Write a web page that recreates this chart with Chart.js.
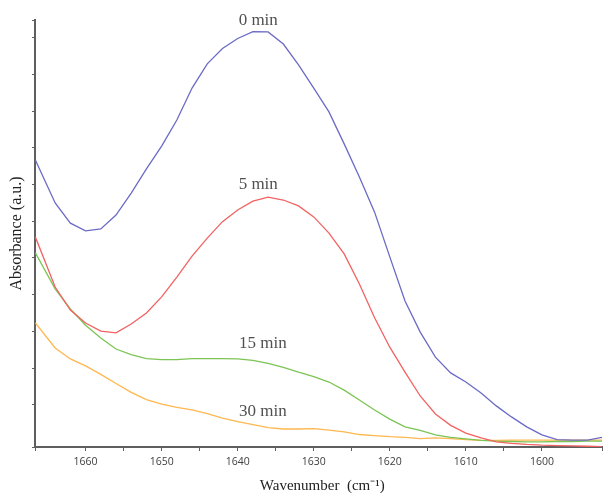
<!DOCTYPE html>
<html>
<head>
<meta charset="utf-8">
<script src="https://cdn.jsdelivr.net/npm/chart.js@4/dist/chart.umd.min.js"></script>
<style>
html,body{margin:0;padding:0;background:#fff;}
#wrap{width:607px;height:493px;position:relative;}
</style>
</head>
<body>
<div id="wrap"><canvas id="c" width="607" height="493"></canvas></div>
<script>
// Wavenumbers (cm^-1)
const wavenumbers = [1666.6,1664,1662,1660,1658,1656,1654,1652,1650,1648,1646,1644,1642,1640,1638,1636,1634,1632,1630,1628,1626,1624,1622,1620,1618,1616,1614,1612,1610,1608,1606,1604,1602,1600,1598,1596,1594,1592.1];
// Absorbance (a.u.) per series
const abs0min  = [0.767,0.650,0.595,0.574,0.579,0.617,0.677,0.743,0.805,0.876,0.963,1.029,1.071,1.098,1.117,1.116,1.083,1.026,0.963,0.898,0.811,0.721,0.625,0.503,0.383,0.298,0.230,0.187,0.162,0.132,0.097,0.067,0.040,0.018,0.005,0.004,0.004,0.011];
const abs5min  = [0.557,0.421,0.358,0.323,0.301,0.296,0.320,0.350,0.394,0.448,0.505,0.554,0.599,0.631,0.655,0.666,0.658,0.642,0.612,0.568,0.511,0.429,0.337,0.257,0.189,0.124,0.075,0.044,0.023,0.010,-0.001,-0.005,-0.008,-0.010,-0.011,-0.012,-0.013,-0.014];
const abs15min = [0.514,0.416,0.361,0.317,0.282,0.252,0.237,0.226,0.223,0.223,0.226,0.226,0.226,0.225,0.221,0.213,0.202,0.189,0.177,0.162,0.140,0.113,0.086,0.061,0.040,0.030,0.018,0.011,0.007,0.003,0.001,0.000,-0.001,-0.001,0.000,0.000,0.001,0.001];
const abs30min = [0.323,0.255,0.225,0.206,0.183,0.158,0.134,0.114,0.102,0.093,0.086,0.076,0.064,0.054,0.046,0.038,0.034,0.034,0.035,0.031,0.026,0.019,0.016,0.013,0.011,0.008,0.010,0.008,0.005,0.003,0.003,0.004,0.004,0.004,0.004,0.004,0.004,0.004];
const seriesNames = ["0 min","5 min","15 min","30 min"];
// Curve label anchors in data units (wavenumber, absorbance)
const labelWn  = [1637.3,1637.3,1636.7,1636.7];
const labelAbs = [1.146,0.699,0.268,0.083];

const colors = ["#6b6bc6","#f26262","#7cc454","#ffb74f"];
const allSeries = [abs0min,abs5min,abs15min,abs30min];

const datasets = allSeries.map((arr,i)=>({
  label: seriesNames[i],
  data: wavenumbers.map((w,j)=>({x:w,y:arr[j]})),
  borderColor: colors[i],
  borderWidth: 1.3,
  pointRadius: 0,
  tension: 0,
  fill: false
}));

const labelPlugin = {
  id:'curveLabels',
  afterDraw(chart){
    const ctx = chart.ctx, xs = chart.scales.x, ys = chart.scales.y;
    ctx.save();
    ctx.font = '17px "Liberation Serif", "Times New Roman", serif';
    ctx.fillStyle = '#505050';
    ctx.textAlign = 'center';
    ctx.textBaseline = 'middle';
    seriesNames.forEach((n,i)=>{
      ctx.fillText(n, xs.getPixelForValue(labelWn[i]), ys.getPixelForValue(labelAbs[i]));
    });
    ctx.restore();
  }
};

new Chart(document.getElementById('c'), {
  type:'line',
  data:{datasets},
  options:{
    responsive:false,
    animation:false,
    layout:{padding:{top:20,right:0,left:0,bottom:0}},
    plugins:{legend:{display:false},tooltip:{enabled:false}},
    scales:{
      x:{
        type:'linear',
        reverse:true,
        min:1592.1,
        max:1666.65,
        afterFit(s){ s.height = 46; },
        border:{display:true,color:'#5f5f5f',width:2},
        grid:{drawOnChartArea:false,drawTicks:true,tickLength:4,color:'#5f5f5f',lineWidth:1},
        ticks:{
          stepSize:5,
          autoSkip:false,
          maxRotation:0,
          padding:5,
          color:'#404040',
          font:{family:'"Open Sans", "Noto Sans", sans-serif',size:10.5},
          callback(v){ return (Math.round(v)%10===0) ? String(Math.round(v)) : ''; }
        },
        title:{
          display:true,
          text:'  Wavenumber  (cm\u207B\u00B9)',
          color:'#222',
          font:{family:'"Liberation Serif", "Times New Roman", serif',size:15},
          padding:{top:0,bottom:-2}
        }
      },
      y:{
        type:'linear',
        min:-0.015,
        max:1.1485,
        afterFit(s){ s.width = 35; },
        border:{display:true,color:'#5f5f5f',width:2},
        grid:{drawOnChartArea:false,drawTicks:true,tickLength:3,color:'#5f5f5f',lineWidth:1},
        ticks:{display:false,stepSize:0.1},
        title:{
          display:true,
          text:'Absorbance (a.u.)',
          color:'#222',
          font:{family:'"Liberation Serif", "Times New Roman", serif',size:16},
          padding:{top:7,bottom:0}
        }
      }
    }
  },
  plugins:[labelPlugin]
});
</script>
</body>
</html>
